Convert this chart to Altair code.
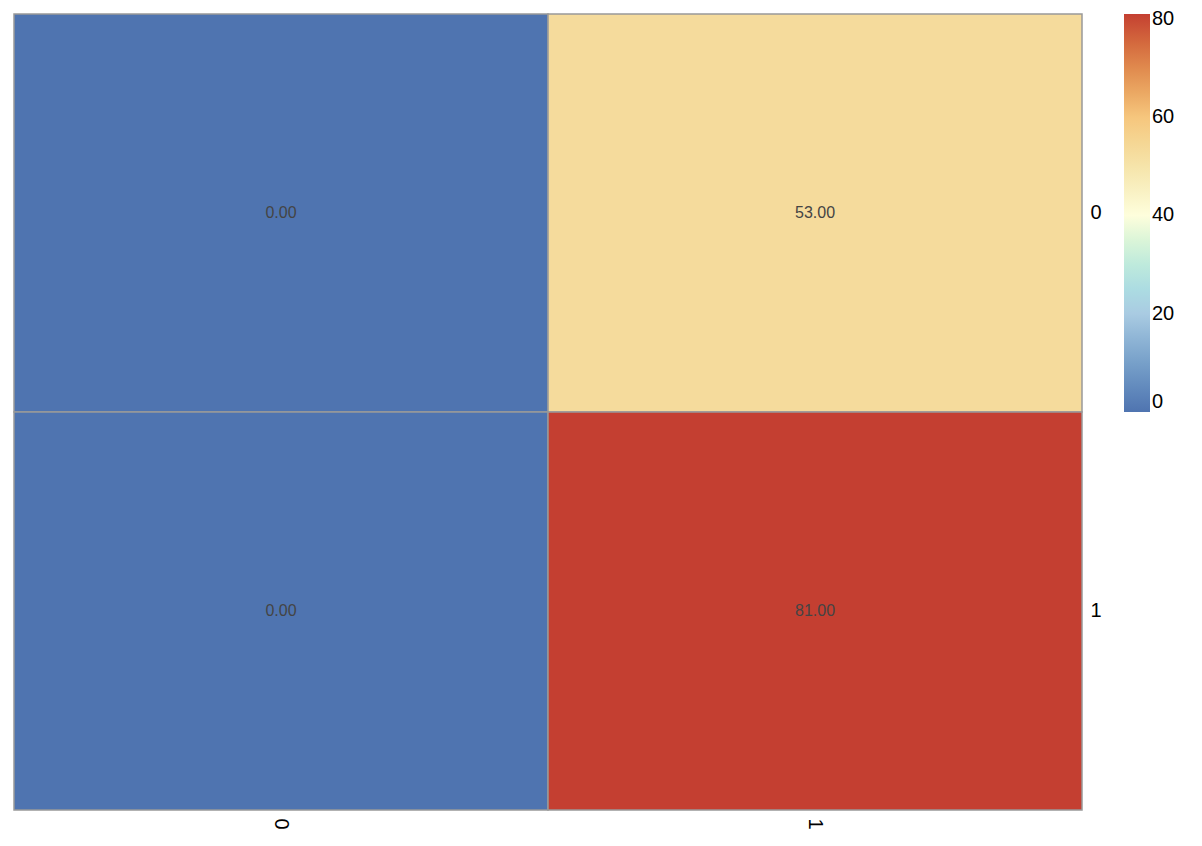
import pandas as pd
import altair as alt

cols = ["0", "1", "0", "1"]
rows = ["0", "0", "1", "1"]
values = [0, 53, 0, 81]

df = pd.DataFrame({"col": cols, "row": rows, "value": values})
df["label"] = df["value"].map(lambda v: f"{v:.2f}")

base = alt.Chart(df).encode(
    x=alt.X("col:N", title=None, axis=alt.Axis(labelAngle=90, labelFontSize=20, labelColor="black",
                                               domain=False, ticks=False, labelPadding=8)),
    y=alt.Y("row:N", title=None, axis=alt.Axis(orient="right", labelAngle=0, labelFontSize=20, labelColor="black",
                                               domain=False, ticks=False, labelPadding=8)),
)

rect = base.mark_rect(stroke="#999999", strokeWidth=1.5).encode(
    color=alt.Color("value:Q",
                    scale=alt.Scale(domain=[0, 20, 40, 60, 81],
                                    range=["#4f74b0", "#a9cbe2", "#fefedc", "#f6c67d", "#c43f31"]),
                    legend=alt.Legend(title=None, gradientLength=398, gradientThickness=26,
                                      labelFontSize=20, labelColor="black", values=[0, 20, 40, 60, 80],
                                      tickCount=5, offset=22))
)

text = base.mark_text(fontSize=16, color="#444444").encode(text="label:N")

chart = (rect + text).properties(width=1068, height=796, padding=5).configure_view(stroke=None)

chart.save("out.html", embed_options={"renderer": "svg", "actions": False})
